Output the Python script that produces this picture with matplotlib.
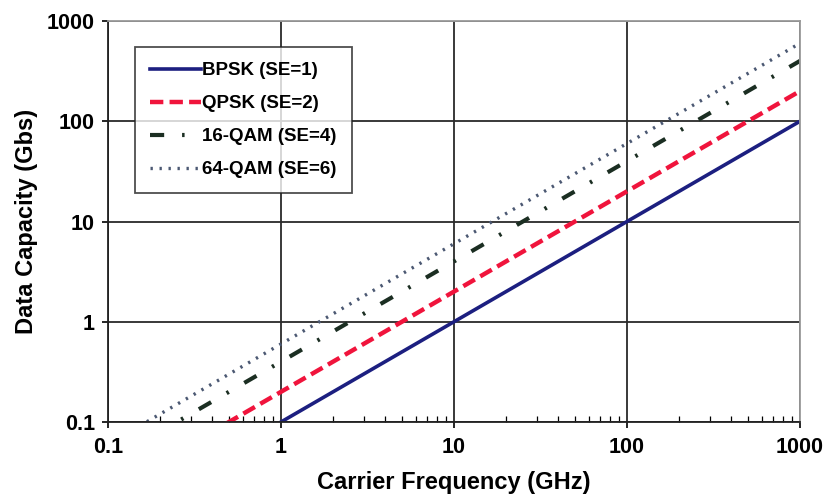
import numpy as np
import matplotlib.pyplot as plt
from matplotlib.ticker import FixedLocator, LogLocator, NullFormatter

# carrier frequency (GHz) and data capacity (Gbs)
freq = [0.1, 1, 10, 100, 1000]
bpsk = [0.01, 0.1, 1, 10, 100]
qpsk = [0.02, 0.2, 2, 20, 200]
qam16 = [0.04, 0.4, 4, 40, 400]
qam64 = [0.06, 0.6, 6, 60, 600]
labels = ['BPSK (SE=1)', 'QPSK (SE=2)', '16-QAM (SE=4)', '64-QAM (SE=6)']
ticks = [0.1, 1, 10, 100, 1000]
tick_labels = ['0.1', '1', '10', '100', '1000']

plt.rcParams['font.family'] = ['Liberation Sans', 'DejaVu Sans']
plt.rcParams['font.weight'] = 'bold'

fig = plt.figure(figsize=(8.28, 4.98), dpi=100)
ax = fig.add_axes([108 / 828, 76 / 498, 692 / 828, 401 / 498])

ax.plot(freq, bpsk, color='#1c1f80', lw=2.6, ls='-', label=labels[0])
ax.plot(freq, qpsk, color='#f0143c', lw=3.2, ls=(0, (3, 1.4)), label=labels[1])
ax.plot(freq, qam16, color='#1b2e22', lw=3.0, ls=(0, (3.4, 4.3, 0.6, 4.3)), label=labels[2])
ax.plot(freq, qam64, color='#4b5872', lw=2.4, ls=(0, (0.7, 2.0)), label=labels[3])

ax.set_xscale('log')
ax.set_yscale('log')
ax.set_xlim(0.1, 1000)
ax.set_ylim(0.1, 1000)

ax.xaxis.set_major_locator(FixedLocator(ticks))
ax.yaxis.set_major_locator(FixedLocator(ticks))
ax.set_xticklabels(tick_labels)
ax.set_yticklabels(tick_labels)
ax.xaxis.set_minor_locator(LogLocator(base=10, subs=np.arange(2, 10)))
ax.xaxis.set_minor_formatter(NullFormatter())
ax.yaxis.set_minor_locator(FixedLocator([]))
ax.tick_params(axis='both', which='major', labelsize=15.5, length=4.5, width=1.2, direction='out')
ax.tick_params(axis='x', which='major', pad=6)
ax.tick_params(axis='y', which='major', pad=5)
ax.tick_params(axis='x', which='minor', length=4, width=0.9, direction='in')
for lab in ax.get_xticklabels() + ax.get_yticklabels():
    lab.set_fontweight('bold')

ax.grid(True, which='major', color='#2a2a2a', lw=1.3)
ax.set_axisbelow(True)
for s in ['top', 'right']:
    ax.spines[s].set_color('#9a9a9a')
    ax.spines[s].set_linewidth(1.3)
for s in ['left', 'bottom']:
    ax.spines[s].set_color('#222222')
    ax.spines[s].set_linewidth(1.3)

ax.set_xlabel('Carrier Frequency (GHz)', fontsize=17, fontweight='bold', labelpad=10)
ax.set_ylabel('Data Capacity (Gbs)', fontsize=17, fontweight='bold', labelpad=6)

leg = ax.legend(loc='upper left', bbox_to_anchor=(0.039, 0.935), fontsize=13.5,
                frameon=True, fancybox=False, handlelength=2.7, handletextpad=0.1,
                labelspacing=0.85, borderpad=0.8, borderaxespad=0)
leg.get_frame().set_edgecolor('#222222')
leg.get_frame().set_linewidth(1.3)
for t in leg.get_texts():
    t.set_fontweight('bold')

fig.savefig('out.png', dpi=100, facecolor='white')
